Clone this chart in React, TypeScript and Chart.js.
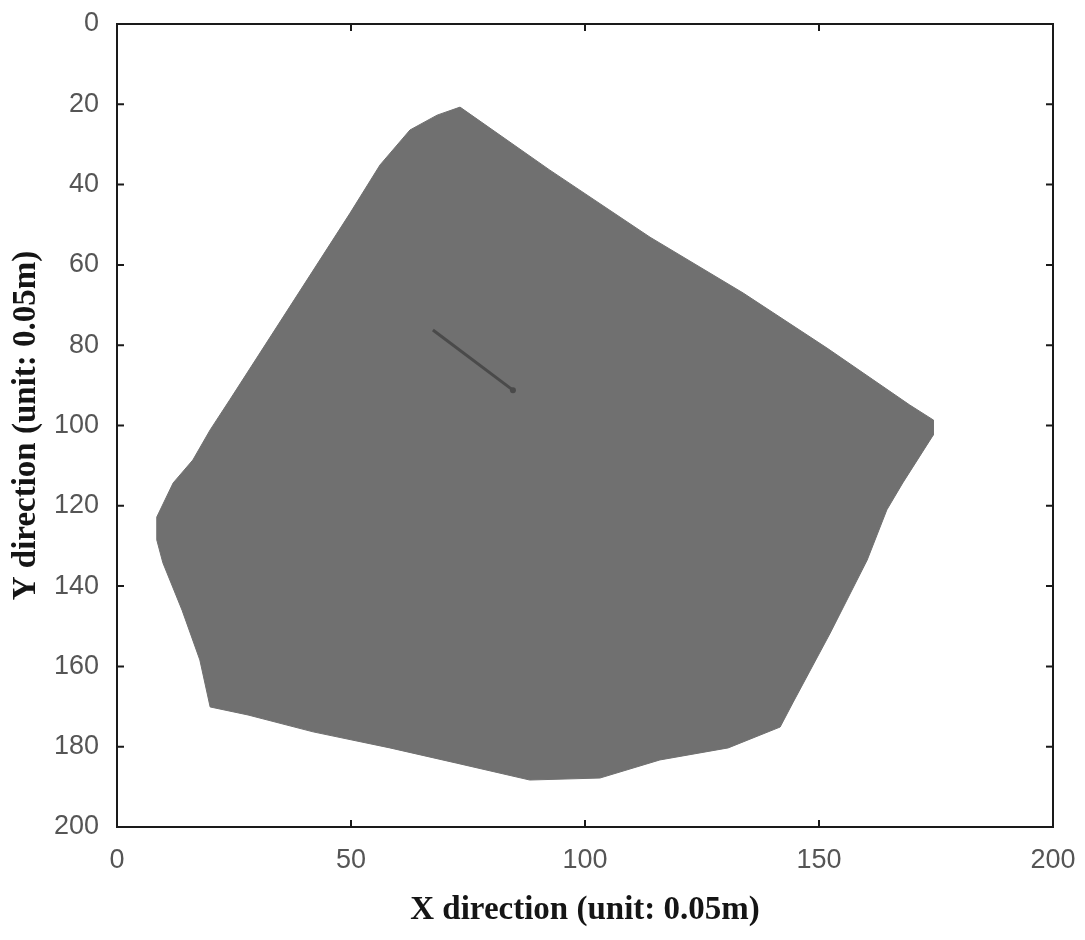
import React, { useEffect, useRef } from 'react';
import { Chart, registerables } from 'chart.js';

Chart.register(...registerables);

// Outline of the region (x, y in grid units of 0.05 m), clockwise from the top vertex
const regionX = [73.3, 92.5, 113.9, 133.8, 151.7, 169.4, 174.4, 174.4, 167.9, 164.5, 160.3, 152.4, 144.4, 141.7, 130.6, 116.0, 103.2, 88.2, 72.6, 58.3, 41.9, 28.0, 19.9, 17.7, 13.9, 9.8, 8.5, 8.5, 12.0, 16.2, 19.9, 24.1, 49.8, 56.2, 62.6, 68.4, 73.3];
const regionY = [20.7, 36.4, 53.1, 67.0, 80.7, 94.9, 98.6, 102.4, 114.3, 121.0, 133.5, 151.7, 169.1, 175.1, 180.3, 183.3, 187.8, 188.3, 184.1, 180.3, 176.3, 172.1, 170.1, 158.4, 146.0, 134.2, 128.5, 122.8, 114.3, 108.6, 101.1, 93.6, 47.1, 35.1, 26.4, 22.7, 20.7];

// Faint darker trace inside the region
const traceX = [67.5, 84.6];
const traceY = [76.2, 91.2];

const xTicks = [0, 50, 100, 150, 200];
const yTicks = [0, 20, 40, 60, 80, 100, 120, 140, 160, 180, 200];

const xTitle = 'X direction (unit: 0.05m)';
const yTitle = 'Y direction (unit: 0.05m)';

const tickFont = { family: '"Liberation Sans Narrow", "Liberation Sans", Arial, sans-serif', size: 27 };
const titleFont = { family: '"Liberation Serif", "Times New Roman", serif', size: 33, weight: 'bold' as const };

const framePlugin = {
  id: 'frame',
  afterDatasetsDraw(chart: any) {
    const { ctx, chartArea: a, scales } = chart;
    ctx.save();
    ctx.strokeStyle = '#1a1a1a';
    ctx.lineWidth = 2;
    ctx.strokeRect(a.left, a.top, a.right - a.left, a.bottom - a.top);
    const len = 7;
    ctx.beginPath();
    xTicks.forEach((v) => {
      const px = scales.x.getPixelForValue(v);
      ctx.moveTo(px, a.bottom);
      ctx.lineTo(px, a.bottom - len);
      ctx.moveTo(px, a.top);
      ctx.lineTo(px, a.top + len);
    });
    yTicks.forEach((v) => {
      const py = scales.y.getPixelForValue(v);
      ctx.moveTo(a.left, py);
      ctx.lineTo(a.left + len, py);
      ctx.moveTo(a.right, py);
      ctx.lineTo(a.right - len, py);
    });
    ctx.stroke();
    ctx.restore();
  },
};

export default function App() {
  const ref = useRef<HTMLCanvasElement | null>(null);

  useEffect(() => {
    if (!ref.current) return;
    const region = regionX.map((x, i) => ({ x, y: regionY[i] }));
    const trace = traceX.map((x, i) => ({ x, y: traceY[i] }));
    const chart = new Chart(ref.current, {
      type: 'scatter',
      data: {
        datasets: [
          {
            data: trace,
            showLine: true,
            borderColor: '#4a4a4a',
            borderWidth: 3,
            pointRadius: [0, 3],
            pointBackgroundColor: '#4a4a4a',
            pointBorderWidth: 0,
            fill: false,
          } as any,
          {
            data: region,
            showLine: true,
            borderColor: '#707070',
            borderWidth: 1,
            backgroundColor: '#707070',
            pointRadius: 0,
            fill: 'shape',
            tension: 0,
          } as any,
        ],
      },
      options: {
        animation: false,
        responsive: false,
        devicePixelRatio: 1,
        layout: { padding: { top: 24, right: 32, left: 0, bottom: 0 } },
        plugins: { legend: { display: false }, tooltip: { enabled: false } },
        scales: {
          x: {
            type: 'linear',
            min: 0,
            max: 200,
            afterBuildTicks: (s: any) => { s.ticks = xTicks.map((v) => ({ value: v })); },
            afterFit: (s: any) => { s.height = 113; s.paddingLeft = 0; s.paddingRight = 0; },
            grid: { display: false },
            border: { display: false },
            ticks: { font: tickFont, color: '#555', padding: 9, maxRotation: 0, autoSkip: false },
            title: { display: true, text: xTitle, font: titleFont, color: '#151515', padding: { top: 0, bottom: 10 } },
          },
          y: {
            type: 'linear',
            reverse: true,
            min: 0,
            max: 200,
            afterBuildTicks: (s: any) => { s.ticks = yTicks.map((v) => ({ value: v })); },
            afterFit: (s: any) => { s.width = 117; s.paddingTop = 0; s.paddingBottom = 0; },
            grid: { display: false },
            border: { display: false },
            ticks: { font: tickFont, color: '#555', padding: 10, autoSkip: false },
            title: { display: true, text: yTitle, font: titleFont, color: '#151515', padding: { top: 7, bottom: 0 } },
          },
        },
      },
      plugins: [framePlugin],
    });
    return () => chart.destroy();
  }, []);

  return (
    <div style={{ position: 'absolute', left: 0, top: 0, width: 1085, height: 940, background: '#fff' }}>
      <canvas ref={ref} width={1085} height={940} style={{ display: 'block' }} />
    </div>
  );
}
